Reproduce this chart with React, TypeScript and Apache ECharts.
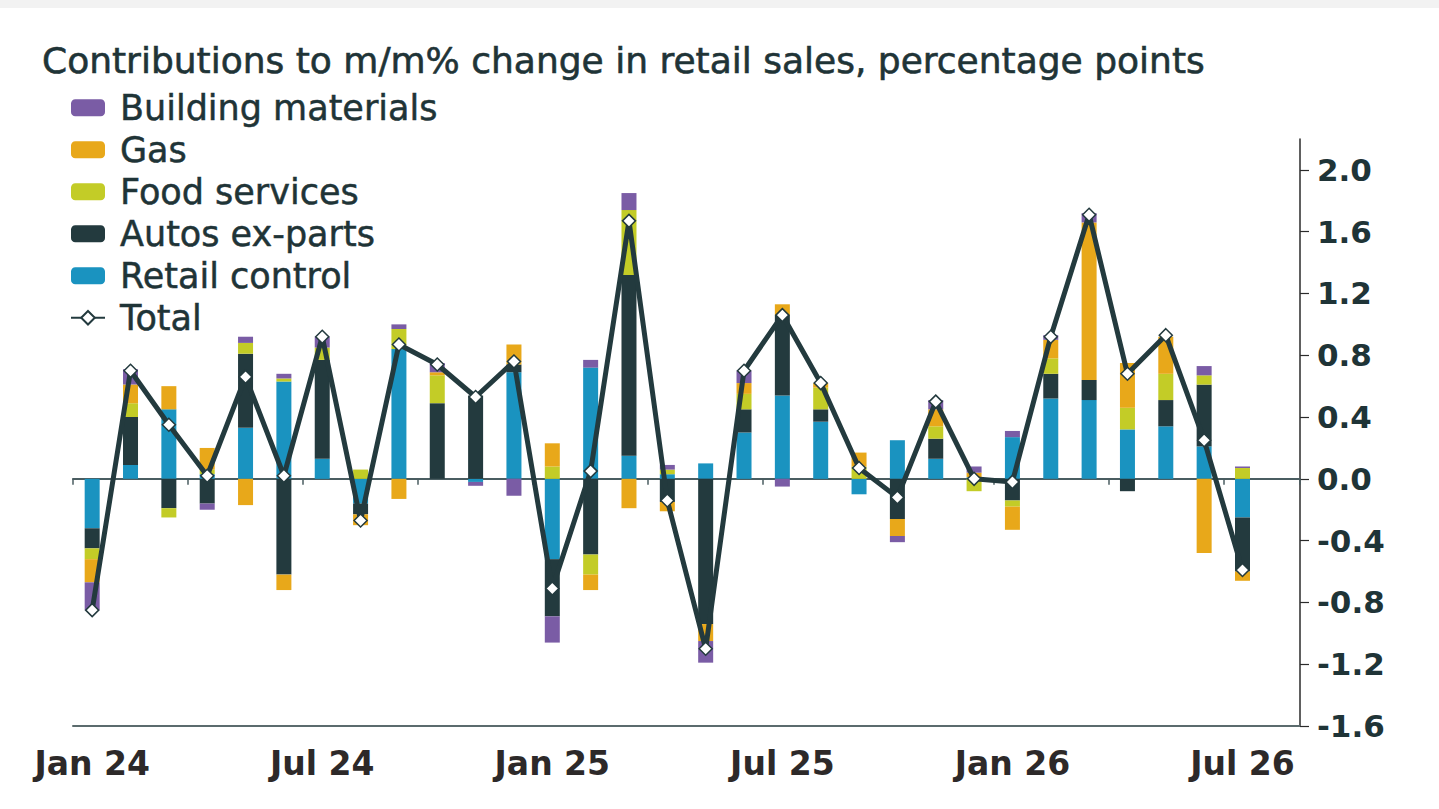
import React, { useEffect, useRef } from "react";
import * as echarts from "echarts";

const months = [
  "Jan 24", "Feb 24", "Mar 24", "Apr 24", "May 24", "Jun 24", "Jul 24", "Aug 24", "Sep 24", "Oct 24", "Nov 24", "Dec 24",
  "Jan 25", "Feb 25", "Mar 25", "Apr 25", "May 25", "Jun 25", "Jul 25", "Aug 25", "Sep 25", "Oct 25", "Nov 25", "Dec 25",
  "Jan 26", "Feb 26", "Mar 26", "Apr 26", "May 26", "Jun 26", "Jul 26", "Aug 26",
];

const retailControl = [-0.32, 0.09, 0.45, 0.03, 0.33, 0.63, 0.13, -0.16, 0.84, 0, -0.02, 0.69, -0.52, 0.72, 0.15, 0.03, 0.1, 0.3, 0.54, 0.37, -0.1, 0.25, 0.13, 0.01, 0.27, 0.52, 0.51, 0.32, 0.34, 0.21, -0.25, null];
const autosExParts = [-0.13, 0.31, -0.19, -0.16, 0.48, -0.62, 0.64, -0.07, 0, 0.49, 0.54, 0.05, -0.37, -0.49, 1.17, -0.15, -0.94, 0.15, 0.52, 0.08, 0, -0.26, 0.13, 0, -0.14, 0.16, 0.13, -0.08, 0.17, 0.4, -0.35, null];
const foodServices = [-0.07, 0.09, -0.06, 0.03, 0.07, 0.02, 0.08, 0.06, 0.13, 0.18, 0, 0, 0.08, -0.13, 0.42, 0.03, 0, 0.1, 0, 0.14, 0.08, 0, 0.08, -0.08, -0.04, 0.1, 0, 0.14, 0.17, 0.06, 0.07, null];
const gas = [-0.15, 0.12, 0.15, 0.14, -0.17, -0.1, 0, -0.07, -0.13, 0.02, 0, 0.13, 0.15, -0.1, -0.19, -0.06, -0.11, 0.07, 0.07, 0.03, 0.09, -0.11, 0.11, 0.03, -0.15, 0.12, 1.02, 0.29, 0.24, -0.48, -0.06, null];
const buildingMaterials = [-0.18, 0.1, 0, -0.04, 0.04, 0.03, 0.07, 0, 0.03, 0.06, -0.025, -0.11, -0.17, 0.05, 0.11, 0.03, -0.14, 0.08, -0.05, 0, 0, -0.04, 0.06, 0.04, 0.04, 0.03, 0.06, 0, 0, 0.06, 0.01, null];
const total = [-0.85, 0.7, 0.35, 0.02, 0.66, 0.02, 0.92, -0.27, 0.87, 0.74, 0.53, 0.76, -0.71, 0.05, 1.67, -0.14, -1.1, 0.7, 1.06, 0.62, 0.07, -0.12, 0.5, 0.0, -0.02, 0.92, 1.71, 0.68, 0.93, 0.25, -0.59, null];

const yTicks = { min: -1.6, max: 2.2, interval: 0.4 };

const COLORS = {
  retail: "#1a93c0",
  autos: "#233a3e",
  food: "#c3cc27",
  gas: "#e8a81a",
  building: "#7a5ca5",
  total: "#233a3e",
};

const TEXT = "#1f3437";

export default function App() {
  const ref = useRef<HTMLDivElement>(null);
  useEffect(() => {
    if (!ref.current) return;
    const chart = echarts.init(ref.current, undefined, { renderer: "svg" });
    const barCommon = { type: "bar", stack: "c", barWidth: 15, emphasis: { disabled: true } };
    chart.setOption({
      animation: false,
      backgroundColor: "#ffffff",
      graphic: [
        { type: "rect", left: 0, top: 0, shape: { width: 1439, height: 8 }, style: { fill: "#f2f2f2" }, silent: true },
      ],
      title: {
        text: "Contributions to m/m% change in retail sales, percentage points",
        left: 42,
        top: 42,
        padding: 0,
        textStyle: {
          fontFamily: "DejaVu Sans",
          fontSize: 36,
          fontWeight: "normal",
          color: TEXT,
          textBorderColor: TEXT,
          textBorderWidth: 0.6,
        },
      },
      legend: {
        orient: "vertical",
        left: 70,
        top: 90,
        padding: 0,
        itemGap: 6.5,
        itemWidth: 34,
        itemHeight: 17,
        data: ["Building materials", "Gas", "Food services", "Autos ex-parts", "Retail control", "Total"],
        textStyle: {
          fontFamily: "DejaVu Sans",
          fontSize: 35,
          lineHeight: 34,
          color: TEXT,
          textBorderColor: TEXT,
          textBorderWidth: 0.5,
          padding: [0, 0, 0, 10],
        },
      },
      grid: { left: 73, right: 139, top: 139, bottom: 83, containLabel: false },
      xAxis: [
        {
          type: "category",
          data: months,
          position: "bottom",
          axisLine: { show: true, onZero: false, lineStyle: { color: "#5b6b6d", width: 2 } },
          axisTick: { show: false },
          axisLabel: {
            interval: 5,
            margin: 21,
            color: "#2d2929",
            fontFamily: "DejaVu Sans",
            fontWeight: "bold",
            fontSize: 33,
          },
          splitLine: { show: false },
        },
        {
          type: "category",
          data: months,
          position: "top",
          axisLine: { show: true, onZero: true, lineStyle: { color: "#4a5d61", width: 2 } },
          axisTick: { show: true, interval: 2, inside: true, length: 6, lineStyle: { color: "#4a5d61", width: 1.5 } },
          axisLabel: { show: false },
          splitLine: { show: false },
        },
      ],
      yAxis: {
        type: "value",
        position: "right",
        min: yTicks.min,
        max: yTicks.max,
        interval: yTicks.interval,
        axisLine: { show: true, lineStyle: { color: "#2b2b2b", width: 1.5 } },
        axisTick: { show: true, length: 9, lineStyle: { color: "#2b2b2b", width: 1.2 } },
        splitLine: { show: false },
        axisLabel: {
          showMaxLabel: false,
          margin: 17,
          color: TEXT,
          fontFamily: "DejaVu Sans",
          fontWeight: "bold",
          fontSize: 31,
          formatter: (v: number) => v.toFixed(1),
        },
      },
      series: [
        { ...barCommon, name: "Retail control", data: retailControl, itemStyle: { color: COLORS.retail } },
        { ...barCommon, name: "Autos ex-parts", data: autosExParts, itemStyle: { color: COLORS.autos } },
        { ...barCommon, name: "Food services", data: foodServices, itemStyle: { color: COLORS.food } },
        { ...barCommon, name: "Gas", data: gas, itemStyle: { color: COLORS.gas } },
        { ...barCommon, name: "Building materials", data: buildingMaterials, itemStyle: { color: COLORS.building } },
        {
          type: "line",
          name: "Total",
          data: total,
          z: 5,
          symbol: "diamond",
          symbolSize: 13,
          showAllSymbol: true,
          lineStyle: { color: COLORS.total, width: 5 },
          itemStyle: { color: "#ffffff", borderColor: COLORS.total, borderWidth: 1.5 },
          emphasis: { disabled: true },
        },
      ],
    });
    return () => chart.dispose();
  }, []);
  return (
    <div
      ref={ref}
      style={{ position: "fixed", left: 0, top: 0, width: 1439, height: 809 }}
    />
  );
}
